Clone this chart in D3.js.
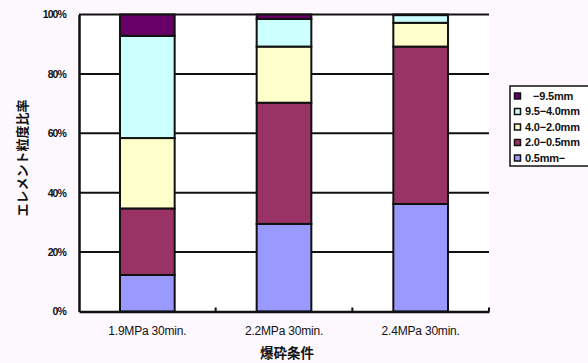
<!DOCTYPE html>
<html><head><meta charset="utf-8">
<script src="https://cdn.jsdelivr.net/npm/d3@7"></script>
<style>
html,body{margin:0;padding:0;background:#fdf8fd;}
svg{display:block;}
text{font-family:"Liberation Sans",Arial,sans-serif;fill:#111;}
</style></head><body>
<svg id="chart" width="588" height="363"></svg>
<script>
const categories = ["1.9MPa 30min.", "2.2MPa 30min.", "2.4MPa 30min."];
const seriesNames = ["0.5mm−", "2.0−0.5mm", "4.0−2.0mm", "9.5−4.0mm", "−9.5mm"];
const s05 = [12.3, 29.5, 36.2];
const s20 = [22.4, 40.8, 53.0];
const s40 = [23.7, 18.9, 8.0];
const s95 = [34.4, 9.3, 2.6];
const sTop = [7.2, 1.5, 0.2];
const yTicks = [0, 20, 40, 60, 80, 100];
const colors = ["#9999ff", "#993366", "#ffffcc", "#ccffff", "#660066"];

const seriesValues = [s05, s20, s40, s95, sTop];
const table = categories.map((c, i) => {
  const o = {cat: c};
  seriesNames.forEach((n, j) => o[n] = seriesValues[j][i]);
  return o;
});
const stacked = d3.stack().keys(seriesNames)(table);

const svg = d3.select("#chart");
const m = {left: 79, right: 489, top: 14.5, bottom: 311.5};
const x = d3.scaleBand().domain(categories).range([m.left, m.right]).paddingInner(0.6).paddingOuter(0.3);
const y = d3.scaleLinear().domain([0, 100]).range([m.bottom, m.top]);

svg.append("rect").attr("x", m.left).attr("y", m.top).attr("width", m.right - m.left)
  .attr("height", m.bottom - m.top).attr("fill", "#fff");

// gridlines
svg.append("g").selectAll("line").data(yTicks.filter(d => d > 0)).join("line")
  .attr("x1", m.left).attr("x2", m.right)
  .attr("y1", d => y(d)).attr("y2", d => y(d))
  .attr("stroke", "#111").attr("stroke-width", 2);

// bars
svg.append("g").selectAll("g").data(stacked).join("g")
  .attr("fill", (d, i) => colors[i])
  .selectAll("rect").data(d => d).join("rect")
  .attr("x", d => x(d.data.cat))
  .attr("y", d => y(d[1]))
  .attr("width", x.bandwidth())
  .attr("height", d => Math.max(0, y(d[0]) - y(d[1])))
  .attr("stroke", "#111").attr("stroke-width", 2);

// y axis
const yAxis = d3.axisLeft(y).tickValues(yTicks).tickSize(0).tickPadding(13).tickFormat(d => d + "%");
const ya = svg.append("g").attr("transform", `translate(${m.left},0)`).call(yAxis);
ya.select(".domain").attr("stroke", "#111").attr("stroke-width", 2.5);
ya.selectAll("text").style("font-size", "10.5px").style("font-weight", "bold")
  .style("letter-spacing", "-0.9px").attr("fill", "#222");

// x axis
const xAxis = d3.axisBottom(x).tickSize(0).tickPadding(15);
const xa = svg.append("g").attr("transform", `translate(0,${m.bottom})`).call(xAxis);
xa.select(".domain").attr("stroke", "#111").attr("stroke-width", 2.5);
xa.selectAll("text").style("font-size", "12px").style("letter-spacing", "-0.2px").attr("fill", "#222");
// category boundary ticks (inside)
const bounds = [1, 2, 3].map(k => m.left + k * (m.right - m.left) / 3);
svg.append("g").selectAll("line").data(bounds).join("line")
  .attr("x1", d => d).attr("x2", d => d).attr("y1", m.bottom).attr("y2", m.bottom - 4)
  .attr("stroke", "#111").attr("stroke-width", 2);

// axis titles
svg.append("text").attr("x", 287).attr("y", 358).attr("text-anchor", "middle")
  .style("font-family", "'Noto Sans CJK JP',sans-serif").style("font-size", "13.5px").style("font-weight", "bold")
  .attr("fill", "#222")
  .text("爆砕条件");
svg.append("text").attr("transform", "translate(22,158) rotate(-90)").attr("text-anchor", "middle")
  .attr("dy", "0.35em")
  .style("font-family", "'Noto Sans CJK JP',sans-serif").style("font-size", "13px").style("font-weight", "bold")
  .attr("fill", "#222")
  .text("エレメント粒度比率");

// legend
const lg = svg.append("g");
lg.append("rect").attr("x", 510).attr("y", 86).attr("width", 90).attr("height", 80)
  .attr("fill", "#fff").attr("stroke", "#111").attr("stroke-width", 1.5);
const legendOrder = [4, 3, 2, 1, 0];
const li = lg.selectAll("g").data(legendOrder).join("g")
  .attr("transform", (d, i) => `translate(517,${96 + i * 15.5})`);
li.append("rect").attr("x", -2.5).attr("y", -3).attr("width", 6).attr("height", 6)
  .attr("fill", d => colors[d]).attr("stroke", "#111").attr("stroke-width", 1.5);
li.append("text").attr("x", d => d === 4 ? 16 : 8).attr("y", 0).attr("dy", "0.35em")
  .style("font-size", "11px").style("font-weight", "bold").style("letter-spacing", "-0.2px")
  .attr("fill", "#222")
  .text(d => seriesNames[d]);
</script>
</body></html>
